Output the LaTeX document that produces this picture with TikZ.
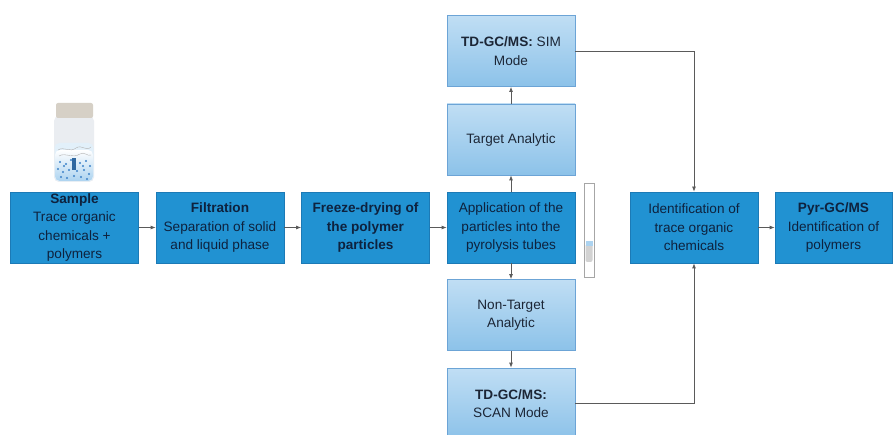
\documentclass[tikz,border=0pt]{standalone}
\usepackage{fontspec}
\setmainfont{Liberation Sans}
\usetikzlibrary{arrows.meta}
\definecolor{darkfill}{RGB}{33,146,210}
\definecolor{darkline}{RGB}{28,122,182}
\definecolor{darktext}{RGB}{14,34,62}
\definecolor{lighttop}{RGB}{192,222,244}
\definecolor{lightbot}{RGB}{140,194,233}
\definecolor{lightline}{RGB}{108,164,214}
\definecolor{lighttext}{RGB}{28,38,54}
\definecolor{wire}{RGB}{90,90,90}
\definecolor{capcol}{RGB}{214,208,198}
\definecolor{glass}{RGB}{234,237,241}
\definecolor{liquid}{RGB}{172,211,240}
\definecolor{dotblue}{RGB}{60,130,200}
\tikzset{
  box/.style={rectangle, minimum width=128pt, minimum height=71pt, inner sep=0pt,
    align=center, font=\fontsize{13.6}{18.5}\selectfont},
  darkbox/.style={box, fill=darkfill, draw=darkline, line width=0.8pt, text=darktext},
  lightbox/.style={box, top color=lighttop, bottom color=lightbot, draw=lightline,
    line width=0.8pt, text=lighttext},
  flow/.style={draw=wire, line width=0.8pt, -{Latex[length=5pt,width=4pt]}},
}
\begin{document}
\begin{tikzpicture}[x=1pt, y=-1pt]
\useasboundingbox (0,0) rectangle (893,435);
\fill[white] (0,0) rectangle (893,435);

% main row
\node[darkbox] (sample) at (74.5,227.5) {\textbf{Sample}\\Trace organic\\chemicals +\\polymers};
\node[darkbox] (filt) at (220,227.5) {\textbf{Filtration}\\Separation of solid\\and liquid phase};
\node[darkbox] (freeze) at (365.5,227.5) {\textbf{Freeze-drying of}\\\textbf{the polymer}\\\textbf{particles}};
\node[darkbox] (app) at (511,227.5) {Application of the\\particles into the\\pyrolysis tubes};
\node[darkbox] (ident) at (694,227.5) {Identification of\\trace organic\\chemicals};
\node[darkbox, minimum width=117pt] (pyr) at (833.5,227.5) {\textbf{Pyr-GC/MS}\\Identification of\\polymers};

% analytic branches
\node[lightbox] (target) at (511,139.5) {Target Analytic};
\node[lightbox] (sim) at (511,51) {\textbf{TD-GC/MS:} SIM\\Mode};
\node[lightbox] (nontarget) at (511,315) {Non-Target\\Analytic};
\node[lightbox] (scan) at (511,403.5) {\textbf{TD-GC/MS:}\\SCAN Mode};

% connectors
\draw[flow] (sample) -- (filt);
\draw[flow] (filt) -- (freeze);
\draw[flow] (freeze) -- (app);
\draw[flow] (app) -- (target);
\draw[flow] (target) -- (sim);
\draw[flow] (app) -- (nontarget);
\draw[flow] (nontarget) -- (scan);
\draw[flow] (ident) -- (pyr);
\coordinate (simturn) at (ident.north |- sim.east);
\coordinate (scanturn) at (ident.south |- scan.east);
\draw[flow] (sim.east) -- (simturn) -- (ident.north);
\draw[flow] (scan.east) -- (scanturn) -- (ident.south);

% sample jar
\fill[glass, rounded corners=5pt] (54,116) rectangle (94,182);
\fill[liquid!35!white, rounded corners=5pt] (54.5,143) rectangle (93.5,181.5);
\shade[top color=white, bottom color=liquid, rounded corners=5pt] (55,150) rectangle (93,181);
\fill[capcol, rounded corners=2pt] (56,103) rectangle (93,118);
\draw[gray!60, line width=0.4pt] (58,150) .. controls (64,146) and (70,153) .. (76,148)
  .. controls (82,144) and (86,152) .. (91,147);
\draw[gray!60, line width=0.4pt] (59,156) .. controls (66,152) and (72,159) .. (80,154)
  .. controls (84,151) and (88,157) .. (91,155);
\foreach \px/\py in {60/162,66/164,71/160,80/163,86/161,90/166,58/169,63/172,69/170,
  77/171,84/170,89/174,61/177,67/178,74/176,81/177,87/179,64/166,83/166}
  \fill[dotblue] (\px,\py) circle (1.1pt);
\fill[dotblue!80!black] (72,158) rectangle (75.5,170);

% pyrolysis tube
\draw[gray!70, fill=white, line width=0.6pt] (584,183) rectangle (594,277);
\fill[gray!35, rounded corners=2pt] (585.5,244) rectangle (592.5,262);
\fill[liquid] (585.5,241) rectangle (592.5,246);
\end{tikzpicture}
\end{document}
